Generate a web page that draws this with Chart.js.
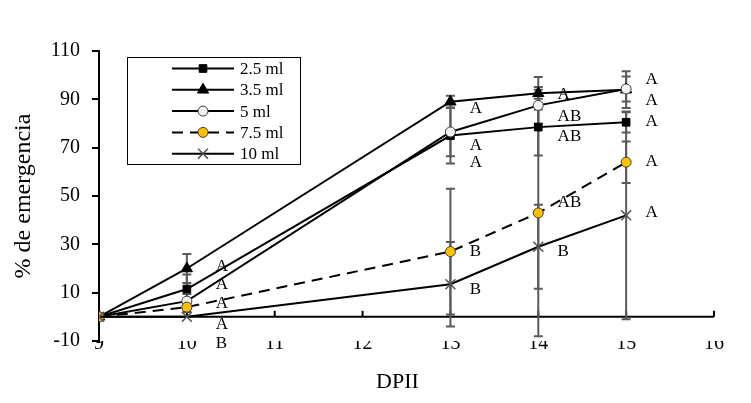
<!DOCTYPE html>
<html>
<head>
<meta charset="utf-8">
<script src="https://cdn.jsdelivr.net/npm/chart.js@4/dist/chart.umd.min.js"></script>
<style>
  html, body { margin: 0; padding: 0; background: #fff; }
</style>
</head>
<body>
<canvas id="chart" width="751" height="403"></canvas>
<script>
// days after infestation (x) and % emergence per dose
const days = [9, 10, 13, 14, 15];
const seriesNames = ['2.5 ml', '3.5 ml', '5 ml', '7.5 ml', '10 ml'];
const v25 = [0, 11.5, 75, 78.5, 80.5];
const v35 = [0, 20, 89, 92.5, 94];
const v5 = [0, 6.5, 76.5, 87.5, 94.3];
const v75 = [0, 4, 27, 43, 64];
const v10 = [0, 0, 13.5, 29, 42];

// error bar half-widths (same order as days)
const e25 = [0, 6, 11.5, 11.7, 4.2];
const e35 = [0, 6, 2.5, 6.7, 7.6];
const e5 = [0, 3, 10, 7.6, 5.2];
const e75 = [0, 2, 26, 51, 8.6];
const e10 = [0, 0, 17.5, 17.4, 43];

const xMin = 9, xMax = 16;
const yMin = -10, yMax = 110, yStep = 20;

// significance letters next to the points
const letterX = [10.33, 13.22, 14.22, 15.22];
const letterText = [
  ['A', 'A', 'A', 'A', 'B'],
  ['A', 'A', 'A', 'B', 'B'],
  ['A', 'AB', 'AB', 'AB', 'B'],
  ['A', 'A', 'A', 'A', 'A']
];
const letterY = [
  [21, 13.5, 5.5, -3, -11],
  [86, 71, 64, 27, 11.5],
  [92, 83, 74.5, 47.5, 27],
  [98, 89.5, 81, 64.3, 43]
];

const values = [v25, v35, v5, v75, v10];
const errors = [e25, e35, e5, e75, e10];
const serif = '"Liberation Serif", "Times New Roman", serif';

const styles = [
  { pointStyle: 'rect', radius: 5.4, bg: '#000', border: '#000', dash: [], bw: 1 },
  { pointStyle: 'triangle', radius: 6.5, bg: '#000', border: '#000', dash: [], bw: 1 },
  { pointStyle: 'circle', radius: 5, bg: '#f2f2f2', border: '#404040', dash: [], bw: 1 },
  { pointStyle: 'circle', radius: 5, bg: '#FFC000', border: '#404040', dash: [11, 7], bw: 1 },
  { pointStyle: 'crossRot', radius: 7, bg: '#555', border: '#555', dash: [], bw: 1.5 }
];

const datasets = values.map((vals, i) => ({
  label: seriesNames[i],
  data: days.map((d, j) => ({ x: d, y: vals[j] })),
  borderColor: '#000',
  borderWidth: 2,
  borderDash: styles[i].dash,
  pointStyle: styles[i].pointStyle,
  pointRadius: styles[i].radius,
  pointBackgroundColor: styles[i].bg,
  pointBorderColor: styles[i].border,
  pointBorderWidth: styles[i].bw,
  tension: 0,
  fill: false,
  order: 5 - i
}));

// zero line with small upward ticks, then the grey error bars
const axisAndErrors = {
  id: 'axisAndErrors',
  beforeDatasetsDraw(chart) {
    const { ctx, chartArea, scales: { x, y } } = chart;
    const y0 = y.getPixelForValue(0);
    ctx.save();
    ctx.strokeStyle = '#000';
    ctx.lineWidth = 2;
    ctx.beginPath();
    ctx.moveTo(x.left, y0);
    ctx.lineTo(x.right, y0);
    ctx.stroke();
    for (let t = xMin + 1; t <= xMax; t++) {
      const px = x.getPixelForValue(t);
      ctx.beginPath();
      ctx.moveTo(px, y0);
      ctx.lineTo(px, y0 - 6);
      ctx.stroke();
    }
    ctx.beginPath();
    ctx.rect(chartArea.left, chartArea.top - 3, chartArea.width + 3, chartArea.height + 3);
    ctx.clip();
    ctx.strokeStyle = '#5a5a5a';
    ctx.lineWidth = 2;
    errors.forEach((errs, i) => {
      errs.forEach((e, j) => {
        if (!e) return;
        const px = x.getPixelForValue(days[j]);
        const top = y.getPixelForValue(values[i][j] + e);
        const bot = y.getPixelForValue(values[i][j] - e);
        ctx.beginPath();
        ctx.moveTo(px, top); ctx.lineTo(px, bot);
        ctx.moveTo(px - 4.5, top); ctx.lineTo(px + 4.5, top);
        ctx.moveTo(px - 4.5, bot); ctx.lineTo(px + 4.5, bot);
        ctx.stroke();
      });
    });
    ctx.restore();
  }
};

// letters, x title and the boxed legend
const lettersAndLegend = {
  id: 'lettersAndLegend',
  afterDraw(chart) {
    const { ctx, scales: { x, y } } = chart;
    ctx.save();
    ctx.fillStyle = '#000';
    ctx.font = '17px ' + serif;
    ctx.textAlign = 'left';
    ctx.textBaseline = 'middle';
    letterX.forEach((lx, k) => {
      letterText[k].forEach((t, m) => {
        ctx.fillText(t, x.getPixelForValue(lx), y.getPixelForValue(letterY[k][m]));
      });
    });

    ctx.font = '22px ' + serif;
    ctx.textAlign = 'center';
    ctx.fillText('DPII', (x.left + x.right) / 2 - 9, 382);

    // legend box
    const bx = 127.5, by = 57.5, bw = 173, bh = 107;
    ctx.textAlign = 'left';
    ctx.fillStyle = '#fff';
    ctx.fillRect(bx, by, bw, bh);
    ctx.strokeStyle = '#000';
    ctx.lineWidth = 1;
    ctx.strokeRect(bx, by, bw, bh);
    ctx.font = '17px ' + serif;
    seriesNames.forEach((name, i) => {
      const ly = 68.5 + i * 21.3;
      ctx.strokeStyle = '#000';
      ctx.lineWidth = 2;
      ctx.setLineDash(styles[i].dash);
      ctx.beginPath();
      ctx.moveTo(172, ly);
      ctx.lineTo(234, ly);
      ctx.stroke();
      ctx.setLineDash([]);
      ctx.fillStyle = styles[i].bg;
      ctx.strokeStyle = styles[i].border;
      ctx.lineWidth = styles[i].bw;
      Chart.helpers.drawPoint(ctx, {
        pointStyle: styles[i].pointStyle,
        radius: styles[i].radius,
        rotation: 0,
        borderWidth: styles[i].bw
      }, 203, ly);
      ctx.fillStyle = '#000';
      ctx.fillText(name, 240, ly + 1);
    });
    ctx.restore();
  }
};

new Chart(document.getElementById('chart'), {
  type: 'line',
  data: { datasets: datasets },
  plugins: [axisAndErrors, lettersAndLegend],
  options: {
    responsive: false,
    animation: false,
    devicePixelRatio: 1,
    layout: { padding: { top: 51, right: 37, left: 0, bottom: 0 } },
    plugins: { legend: { display: false }, tooltip: { enabled: false } },
    scales: {
      x: {
        type: 'linear',
        min: xMin,
        max: xMax,
        ticks: { stepSize: 1, padding: -9, color: '#000', font: { family: serif, size: 20 } },
        grid: { display: false, drawTicks: false },
        border: { display: false },
        afterFit(scale) { scale.height = 62; }
      },
      y: {
        min: yMin,
        max: yMax,
        ticks: { stepSize: yStep, padding: 12, color: '#000', font: { family: serif, size: 20 } },
        grid: { drawOnChartArea: false, drawTicks: true, tickLength: 7, tickColor: '#000', lineWidth: 2 },
        border: { display: true, color: '#000', width: 2 },
        title: {
          display: true, text: '% de emergencia', color: '#000',
          font: { family: serif, size: 24 }, padding: { top: 9, bottom: 0 }
        },
        afterFit(scale) { scale.width = 99; }
      }
    }
  }
});
</script>
</body>
</html>
